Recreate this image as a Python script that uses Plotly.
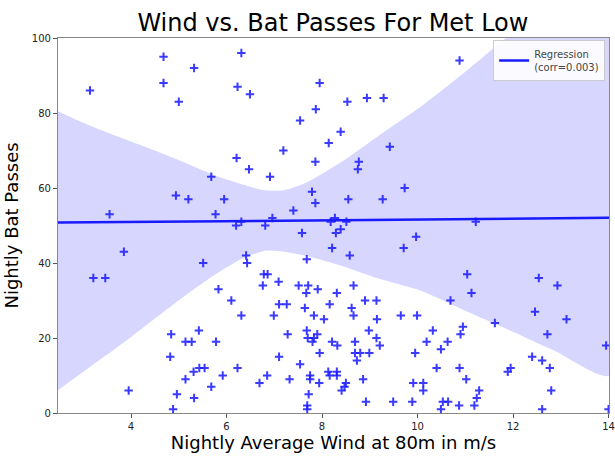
import numpy as np
import plotly.graph_objects as go

# Nightly observations: average wind speed at 80 m (m/s) and bat passes
wind = [
    4.68, 5.32, 3.14, 4.68, 6.23, 6.31, 5.00, 6.21, 5.68, 4.94, 5.20, 5.95, 3.55, 5.77, 6.20,
    6.49, 7.95, 8.53, 8.94, 9.29, 7.87, 7.54, 8.39, 8.14, 9.42, 7.19, 6.47, 6.91, 7.86, 8.77,
    8.75, 9.73, 7.79, 7.86, 8.55, 9.27, 7.40, 6.96, 8.27, 6.31, 8.18, 8.51, 6.81, 10.88, 11.22,
    3.85, 5.51, 3.21, 3.46, 5.83, 6.10, 6.31, 4.84, 5.42, 5.14, 5.27, 5.78, 4.82, 5.43, 5.54,
    6.23, 5.31, 5.14, 5.92, 5.68, 3.95, 4.96, 5.32, 4.88,
    7.58, 8.29, 8.39, 9.97, 8.21, 8.58, 9.71, 6.41, 6.43, 7.68, 6.78, 6.86, 6.76, 7.09, 7.51,
    7.71, 7.67, 7.91, 8.66, 8.31, 8.90, 9.14, 7.10, 7.26, 8.16, 7.64, 8.62, 6.99, 7.83, 8.04,
    8.66, 9.15, 9.65, 9.99,
    7.68, 7.28, 7.90, 7.70, 7.83, 7.80, 8.98, 9.14, 8.21, 8.32, 8.69, 9.21, 7.95, 8.69, 8.80,
    8.99, 9.95, 7.10, 8.73, 7.54, 6.85, 8.13, 8.31, 8.16, 8.31, 7.75, 7.32, 7.75, 8.86, 6.69,
    7.94, 8.50, 9.91, 8.47, 8.41, 7.72, 8.92, 9.49, 9.89, 7.69, 7.69,
    11.04, 12.54, 12.93, 11.13, 10.69, 12.46, 13.12, 11.62, 10.32, 10.95, 10.90, 12.72, 10.19,
    10.63, 10.49, 13.95, 10.40, 10.88, 11.95, 11.89, 12.40, 12.61, 12.77, 11.02, 10.12, 10.12,
    11.29, 12.80, 10.53, 10.64, 11.24, 10.87, 11.19, 10.49, 12.61, 14.0,
]
bat_passes = [
    95, 92, 86, 88, 87, 96, 83, 68, 63, 58, 57, 57, 53, 53, 50,
    85, 88, 83, 84, 84, 81, 78, 75, 72, 71, 70, 65, 63, 67, 67,
    65, 60, 59, 56, 57, 57, 54, 52, 52, 51, 51, 51, 50, 94, 51,
    43, 40, 36, 36, 33, 30, 26, 21, 22, 19, 19, 19, 15, 12, 12,
    12, 11, 9, 10, 7, 6, 5, 4, 1,
    48, 48, 49, 47, 44, 42, 44, 42, 40, 41, 37, 37, 34, 35, 34,
    34, 32, 33, 34, 32, 30, 30, 29, 29, 29, 28, 28, 26, 26, 25,
    26, 25, 26, 26,
    22, 21, 21, 20, 20, 19, 22, 20, 19, 18, 19, 18, 16, 16, 16,
    16, 16, 15, 14, 13, 10, 11, 11, 10, 10, 10, 9, 9, 9, 8,
    8, 8, 8, 7, 6, 5, 3, 3, 3, 2, 1,
    37, 36, 34, 32, 30, 27, 25, 24, 22, 23, 21, 21, 19,
    19, 17, 18, 12, 12, 12, 11, 15, 14, 12, 9, 8, 6,
    6, 6, 3, 3, 4, 2, 2, 1, 1, 1,
]

# Linear fit and its confidence band
reg_intercept = 50.5
reg_slope = 0.11
corr_label = "0.003"
band_x = [2.47, 3.0, 3.5, 4.0, 4.5, 5.1, 5.7, 6.3, 6.8, 7.2, 7.7, 8.4, 9.2, 10.1, 11.0, 11.8, 12.9, 14.01]
band_upper = [80.5, 77.4, 74.8, 72.4, 70.0, 66.9, 63.6, 61.1, 59.4, 59.4, 61.6, 66.9, 74.1, 82.0, 91.0, 99.5, 110.0, 120.0]
band_lower = [6.1, 11.0, 15.6, 20.3, 25.2, 31.0, 36.4, 41.0, 43.3, 43.0, 41.8, 39.3, 35.8, 32.5, 27.3, 22.8, 16.4, 10.0]

x_range = [2.47, 14.01]
y_range = [0, 100]
x_ticks = [4, 6, 8, 10, 12, 14]
y_ticks = [0, 20, 40, 60, 80, 100]

FONT = "DejaVu Sans"

fig = go.Figure()

# confidence band (closed polygon: upper edge then lower edge reversed)
fig.add_trace(go.Scatter(
    x=band_x + band_x[::-1],
    y=band_upper + band_lower[::-1],
    fill="toself",
    fillcolor="rgba(0,0,255,0.16)",
    line=dict(width=0, shape="spline", smoothing=0.6),
    mode="lines",
    hoverinfo="skip",
    showlegend=False,
))

# nightly observations
fig.add_trace(go.Scatter(
    x=wind,
    y=bat_passes,
    mode="markers",
    marker=dict(symbol="cross-thin", size=6,
                line=dict(width=2, color="rgba(25,25,255,0.85)")),
    showlegend=False,
))

# regression line across the axis range
reg_x = np.array(x_range)
reg_y = reg_intercept + reg_slope * reg_x
fig.add_trace(go.Scatter(
    x=reg_x, y=reg_y,
    mode="lines",
    line=dict(color="#1a1aff", width=2.5),
    name=f"Regression<br>(corr={corr_label})",
))

axis_common = dict(
    showgrid=False, zeroline=False, automargin=False,
    showline=True, linecolor="#888888", linewidth=1.2, mirror=True,
    ticks="outside", ticklen=4, tickcolor="#555555", tickwidth=1,
    tickfont=dict(family=FONT, size=10, color="#222222"),
)

fig.update_layout(
    width=615, height=456,
    margin=dict(l=58, r=6, t=38, b=43),
    paper_bgcolor="white", plot_bgcolor="white",
    font=dict(family=FONT),
    title=dict(text="Wind vs. Bat Passes For Met Low",
               x=0.5413, xanchor="center", y=0.95, yanchor="middle",
               font=dict(family=FONT, size=24, color="black")),
    xaxis=dict(range=x_range, tickvals=x_ticks,
               title=dict(text="Nightly Average Wind at 80m in m/s",
                          font=dict(family=FONT, size=18, color="black"), standoff=5),
               **axis_common),
    yaxis=dict(range=y_range, tickvals=y_ticks,
               title=dict(text="Nightly Bat Passes",
                          font=dict(family=FONT, size=18, color="black"), standoff=8),
               **axis_common),
    legend=dict(x=0.993, y=0.995, xanchor="right", yanchor="top",
                bgcolor="rgba(255,255,255,0.9)", bordercolor="#cccccc", borderwidth=1,
                font=dict(family=FONT, size=10, color="#444444")),
)

fig.write_html("out.html")
